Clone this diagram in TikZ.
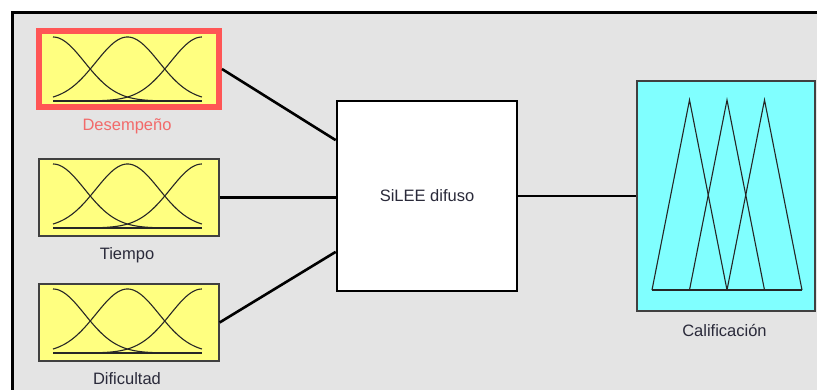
\documentclass[tikz,border=0pt]{standalone}
\usepackage{fontspec}
\setmainfont{Liberation Sans}
\usetikzlibrary{calc}
\definecolor{bggrey}{HTML}{E4E4E4}
\definecolor{inyellow}{HTML}{FFFF80}
\definecolor{outcyan}{HTML}{80FFFF}
\definecolor{selred}{HTML}{FF5555}
\definecolor{labred}{HTML}{F26A6A}
\definecolor{labtext}{HTML}{2A2A3A}
\definecolor{boxedge}{HTML}{404040}
\tikzset{
  inbox/.style={draw=boxedge, line width=1.2pt, fill=inyellow, minimum width=180pt, minimum height=77pt, inner sep=0pt},
  selbox/.style={draw=selred, line width=6pt, fill=inyellow, minimum width=180pt, minimum height=76pt, inner sep=0pt},
  sysbox/.style={draw=black, line width=2.6pt, fill=white, minimum width=180pt, minimum height=190pt, inner sep=0pt, font=\fontsize{16.5}{18}\selectfont, text=labtext},
  outbox/.style={draw=boxedge, line width=1.6pt, fill=outcyan, minimum width=178pt, minimum height=230pt, inner sep=0pt},
  lbl/.style={font=\fontsize{16.5}{18}\selectfont, text=labtext, inner sep=0pt},
  conn/.style={draw=black, line width=2.6pt},
  mf/.style={draw=black!85, line width=1.1pt},
}
\begin{document}
\begin{tikzpicture}[x=1pt,y=-1pt]
\useasboundingbox (0,0) rectangle (817,389);
\fill[white] (0,0) rectangle (817,389);
\fill[bggrey] (12,12) rectangle (830,400);
\draw[line width=3pt] (12,400) -- (12,12) -- (830,12);

% input boxes
\node[selbox] (in1) at (129,69) {};
\node[inbox] (in2) at (129,197.5) {};
\node[inbox] (in3) at (129,322.5) {};
\node[lbl, text=labred] (lab1) at (127,126) {Desempeño};
\node[lbl] (lab2) at (127,255) {Tiempo};
\node[lbl] (lab3) at (127,379) {Dificultad};

% membership curves
\foreach \b in {101,228,353}{
  \draw[mf] (53,\b) -- (202,\b);
  \foreach \c in {0,0.5,1}{
    \draw[mf] plot[domain=0:1,samples=70,smooth] ({53+149*\x},{\b-64*exp(-((\x-\c)^2)/0.0901)});
  }
}

% system box
\node[sysbox] (sys) at (427,196) {SiLEE difuso};

% output box
\node[outbox] (out) at (726,196) {};
\node[lbl] (lab4) at (724.5,330) {Calificación};
\foreach \p in {0,1,2}{
  \draw[mf] ({652+37.5*\p},290) -- ({689.5+37.5*\p},100) -- ({727+37.5*\p},290);
}
\draw[mf] (652,290) -- (802,290);

% connectors
\coordinate (s1) at ($(sys.north west)!0.21!(sys.south west)$);
\coordinate (s3) at ($(sys.north west)!0.79!(sys.south west)$);
\draw[conn] (in1.east) -- (s1);
\draw[conn] (in2.east) -- (in2.east -| sys.west);
\draw[conn] (in3.east) -- (s3);
\draw[conn] (sys.east) -- (out.west);
\end{tikzpicture}
\end{document}
